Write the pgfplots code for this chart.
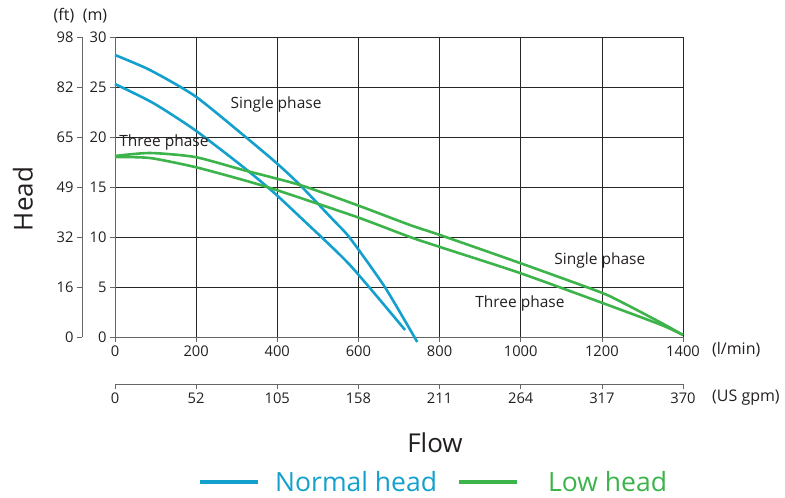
\documentclass[border=0pt]{standalone}
\usepackage{fontspec}
\setmainfont{Open Sans}
\usepackage{pgfplots}
\pgfplotsset{compat=1.18}
\definecolor{nblue}{RGB}{20,160,205}
\definecolor{lgreen}{RGB}{60,180,75}
\definecolor{txt}{RGB}{35,31,32}
\begin{document}
\begin{tikzpicture}
\path[use as bounding box] (-115pt,-161pt) rectangle (670pt,337pt);
\pgfplotsset{every axis/.append style={
  scale only axis,
  tick align=outside, major tick length=5pt,
  tick style={black!60, line width=0.7pt},
  axis line style={black!60, line width=0.8pt},
  ticklabel style={font=\fontsize{14.7}{17}\selectfont, text=txt},
  /pgf/number format/assume math mode=true,
  /pgf/number format/1000 sep={},
}}
% ft axis
\begin{axis}[at={(-33pt,0pt)}, anchor=south west, width=10pt, height=300pt,
  xmin=0, xmax=1, ymin=0, ymax=30, hide x axis, axis y line*=left,
  ytick={0,5,...,30}, yticklabels={0,16,32,49,65,82,98}]
\end{axis}
% US gpm axis
\begin{axis}[at={(0pt,-47pt)}, anchor=south west, width=568pt, height=10pt,
  xmin=0, xmax=1400, ymin=0, ymax=1, hide y axis, axis x line*=bottom,
  xtick={0,200,...,1400}, xticklabels={0,52,105,158,211,264,317,370}]
\end{axis}
% main axis
\begin{axis}[at={(0pt,0pt)}, anchor=south west, width=568pt, height=300pt,
  xmin=0, xmax=1400, ymin=0, ymax=30,
  xtick={0,200,...,1400}, ytick={0,5,...,30},
  axis x line*=bottom, axis y line*=left,
  grid=major, major grid style={black!85, line width=0.7pt},
  clip=false]
\addplot[nblue, line width=2.6pt, smooth, tension=0.4] coordinates {
 (0,28.2) (86,26.7) (197,24.1) (316,20.2) (398,17.4) (456,15.2) (538,11.7) (579,9.9) (665,5.0) (745,-0.5)};
\addplot[nblue, line width=2.6pt, smooth, tension=0.4] coordinates {
 (0,25.3) (94,23.4) (197,20.7) (316,17.0) (390,14.5) (464,11.7) (579,7.2) (715,0.7)};
\addplot[lgreen, line width=2.6pt, smooth, tension=0.4] coordinates {
 (0,18.1) (86,18.4) (197,18.0) (316,16.7) (456,15.2) (596,13.2) (727,11.2) (801,10.2) (998,7.4) (1195,4.5) (1253,3.4) (1347,1.4) (1400,0.2)};
\addplot[lgreen, line width=2.6pt, smooth, tension=0.4] coordinates {
 (0,18.0) (86,17.9) (197,17.0) (316,15.7) (398,14.7) (596,12.0) (727,10.0) (801,9.0) (998,6.4) (1195,3.5) (1347,1.2) (1400,0.2)};
\node[font=\fontsize{15.5}{18}\selectfont, text=txt] at (axis cs:397,23.3) {Single phase};
\node[font=\fontsize{15.5}{18}\selectfont, text=txt, anchor=west] at (axis cs:2,19.5) {Three phase};
\node[font=\fontsize{15.5}{18}\selectfont, text=txt] at (axis cs:1195,7.7) {Single phase};
\node[font=\fontsize{15.5}{18}\selectfont, text=txt] at (axis cs:998,3.4) {Three phase};
\end{axis}
\node[font=\fontsize{16}{19}\selectfont, text=txt, anchor=west, inner sep=0pt] at (597pt,-13pt) {(l/min)};
\node[font=\fontsize{16}{19}\selectfont, text=txt, anchor=west, inner sep=0pt] at (597pt,-61pt) {(US gpm)};
\node[font=\fontsize{16}{19}\selectfont, text=txt] at (-51pt,321pt) {(ft)};
\node[font=\fontsize{16}{19}\selectfont, text=txt] at (-20pt,321pt) {(m)};
\node[font=\fontsize{26}{30}\selectfont, text=txt] at (320pt,-106pt) {Flow};
\node[font=\fontsize{26}{30}\selectfont, text=txt, rotate=90] at (-92pt,138pt) {Head};
\draw[nblue, line width=3.5pt] (85pt,-145pt) -- (143pt,-145pt);
\node[font=\fontsize{26.5}{30}\selectfont, text=nblue, anchor=west, inner sep=0pt] at (160pt,-145pt) {Normal head};
\draw[lgreen, line width=3.5pt] (344pt,-145pt) -- (402pt,-145pt);
\node[font=\fontsize{26.5}{30}\selectfont, text=lgreen, anchor=west, inner sep=0pt] at (433pt,-145pt) {Low head};
\end{tikzpicture}
\end{document}
